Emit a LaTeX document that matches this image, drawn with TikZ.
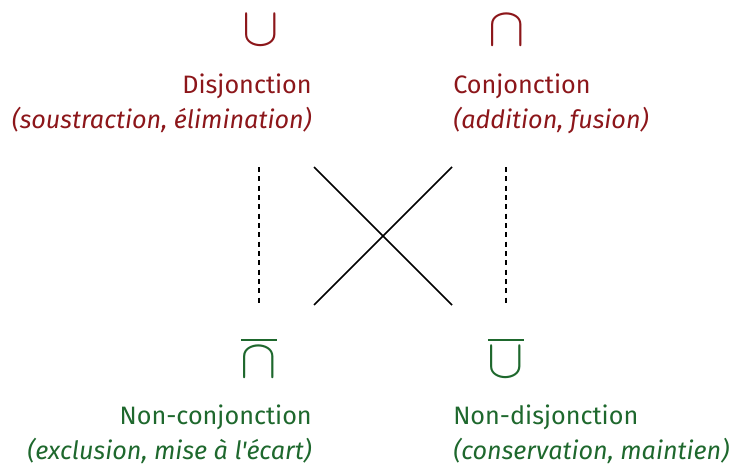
\documentclass[tikz,border=0pt]{standalone}
\usepackage{graphicx}
\usepackage{fontspec}
\newfontfamily\firaplain{Fira Sans}
\definecolor{dred}{RGB}{140,22,26}
\definecolor{dgreen}{RGB}{30,104,45}
\newcommand{\bigsym}[1]{\scalebox{4.1}{$#1$}}
\begin{document}
\begin{tikzpicture}[x=0.75pt,y=-0.75pt,
  lbl/.style={inner sep=0pt, font=\firaplain\fontsize{18.9}{23}\selectfont},
  sub/.style={inner sep=0pt, font=\firaplain\fontsize{18.9}{23}\selectfont\itshape},
  sym/.style={inner sep=0pt},
  link/.style={line width=1.3pt, black},
  dlink/.style={line width=1.3pt, black, dash pattern=on 3.8pt off 3.2pt}]
\useasboundingbox (0,0) rectangle (733,471);
% top row
\node[sym, text=dred] (cup) at (261,30) {\bigsym{\cup}};
\node[sym, text=dred] (cap) at (507,30) {\bigsym{\cap}};
\node[lbl, text=dred, anchor=base east] (dis) at (312,93) {Disjonction};
\node[sub, text=dred, anchor=base east] (dissub) at (312,128) {(soustraction, élimination)};
\node[lbl, text=dred, anchor=base west] (con) at (453,93) {Conjonction};
\node[sub, text=dred, anchor=base west] (consub) at (453,128) {(addition, fusion)};
% bottom row
\node[sym, text=dgreen] (ncap) at (259,357) {\bigsym{\overline{\cap}}};
\node[sym, text=dgreen] (ncup) at (506,357) {\bigsym{\overline{\cup}}};
\node[lbl, text=dgreen, anchor=base east] (ncon) at (312,424) {Non-conjonction};
\node[sub, text=dgreen, anchor=base east] (nconsub) at (312,459) {(exclusion, mise à l'écart)};
\node[lbl, text=dgreen, anchor=base west] (ndis) at (453,424) {Non-disjonction};
\node[sub, text=dgreen, anchor=base west] (ndissub) at (453,459) {(conservation, maintien)};
% connectors
\coordinate (a1) at (259,167); \coordinate (a2) at (259,305);
\coordinate (b1) at (506,167); \coordinate (b2) at (506,305);
\coordinate (c1) at (314,167); \coordinate (c2) at (452,305);
\coordinate (d1) at (452,167); \coordinate (d2) at (314,305);
\draw[dlink] (a1) -- (a2);
\draw[dlink] (b1) -- (b2);
\draw[link] (c1) -- (c2);
\draw[link] (d1) -- (d2);
\end{tikzpicture}
\end{document}
